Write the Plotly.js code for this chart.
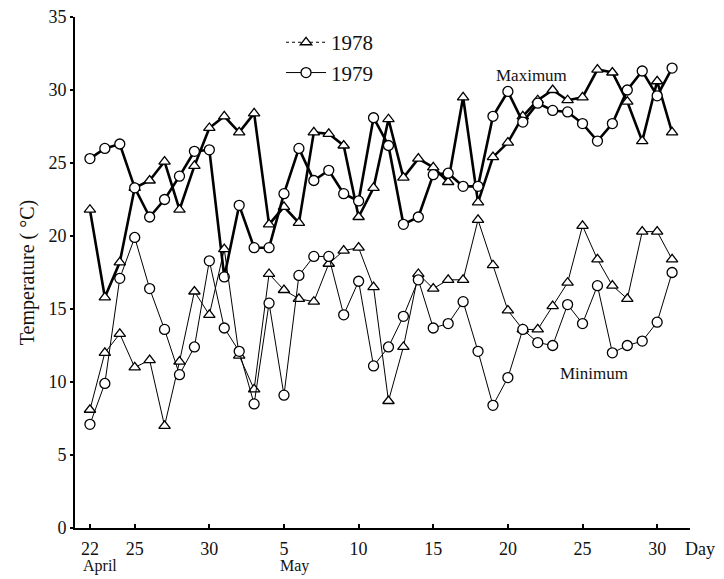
<!DOCTYPE html>
<html>
<head>
<meta charset="utf-8">
<script src="https://cdn.plot.ly/plotly-3.0.1.min.js"></script>
<style>html,body{margin:0;padding:0;background:#fff;}#chart{width:724px;height:579px;}</style>
</head>
<body>
<div id="chart"></div>
<script>
// Day index: 0 = 22 April ... 39 = 31 May
const day = [0,1,2,3,4,5,6,7,8,9,10,11,12,13,14,15,16,17,18,19,20,21,22,23,24,25,26,27,28,29,30,31,32,33,34,35,36,37,38,39];

const max1978 = [21.8,15.8,18.2,23.3,23.8,25.1,21.8,24.8,27.4,28.2,27.1,28.4,20.8,22.0,20.9,27.1,27.0,26.2,21.3,23.3,
                 28.0,24.0,25.3,24.7,23.7,29.5,22.3,25.4,26.4,28.2,29.3,30.0,29.3,29.5,31.4,31.2,29.2,26.5,30.6,27.1];
const max1979 = [25.3,26.0,26.3,23.3,21.3,22.5,24.1,25.8,25.9,17.2,22.1,19.2,19.2,22.9,26.0,23.8,24.5,22.9,22.4,28.1,
                 26.2,20.8,21.3,24.2,24.3,23.4,23.4,28.2,29.9,27.8,29.1,28.6,28.5,27.7,26.5,27.7,30.0,31.3,29.6,31.5];
const min1978 = [8.1,12.0,13.3,11.0,11.5,7.0,11.4,16.2,14.6,19.1,11.8,9.5,17.4,16.3,15.7,15.5,18.1,19.0,19.2,16.5,
                 8.7,12.4,17.4,16.4,17.0,17.0,21.1,18.0,14.9,13.6,13.6,15.2,16.8,20.7,18.4,16.6,15.7,20.3,20.3,18.4];
const min1979 = [7.1,9.9,17.1,19.9,16.4,13.6,10.5,12.4,18.3,13.7,12.1,8.5,15.4,9.1,17.3,18.6,18.6,14.6,16.9,11.1,
                 12.4,14.5,17.0,13.7,14.0,15.5,12.1,8.4,10.3,13.6,12.7,12.5,15.3,14.0,16.6,12.0,12.5,12.8,14.1,17.5];

const tickDays = [0,3,8,13,18,23,28,33,38];
const tickText = ['22','25','30','5','10','15','20','25','30'];
const yTicks = [0,5,10,15,20,25,30,35];

const FONT = 'Liberation Serif, Times New Roman, serif';
const triMarker = {symbol:'triangle-up', size:10, color:'white', line:{color:'black', width:1.3}};
const cirMarker = {symbol:'circle', size:10, color:'white', line:{color:'black', width:1.3}};

const traces = [
  {x:day, y:max1978, mode:'lines+markers', line:{color:'black', width:2.6}, marker:triMarker, showlegend:false},
  {x:day, y:max1979, mode:'lines+markers', line:{color:'black', width:2.6}, marker:cirMarker, showlegend:false},
  {x:day, y:min1978, mode:'lines+markers', line:{color:'black', width:1}, marker:triMarker, showlegend:false},
  {x:day, y:min1979, mode:'lines+markers', line:{color:'black', width:1}, marker:cirMarker, showlegend:false},
  {x:[null], y:[null], name:'1978', mode:'lines+markers', line:{color:'black', width:1, dash:'dot'}, marker:triMarker},
  {x:[null], y:[null], name:'1979', mode:'lines+markers', line:{color:'black', width:1}, marker:cirMarker}
];

const layout = {
  width:724, height:579,
  margin:{l:75, r:34, t:17, b:51},
  paper_bgcolor:'white', plot_bgcolor:'white',
  font:{family:FONT, color:'#111', size:17},
  showlegend:true,
  legend:{x:0.335, y:0.99, xanchor:'left', yanchor:'top', bgcolor:'rgba(0,0,0,0)',
          font:{family:FONT, size:21, color:'#111'}, itemwidth:40, tracegroupgap:2},
  xaxis:{range:[-1.0,40.2], showgrid:false, zeroline:false, showline:true, linecolor:'black', linewidth:2,
         tickmode:'array', tickvals:tickDays, ticktext:tickText, ticks:'inside', ticklen:4, tickwidth:2, tickcolor:'black',
         ticklabelstandoff:3, tickfont:{family:FONT, size:18, color:'#111'}},
  yaxis:{range:[0,35], showgrid:false, zeroline:false, showline:true, linecolor:'black', linewidth:2,
         tickmode:'array', tickvals:yTicks, ticks:'outside', ticklen:3, tickwidth:2, tickcolor:'black',
         tickfont:{family:FONT, size:18, color:'#111'},
         title:{text:'Temperature ( °C)', font:{family:FONT, size:20, color:'#111'}, standoff:8}},
  annotations:[
    {text:'Maximum', x:29.6, y:31.0, xref:'x', yref:'y', showarrow:false, font:{family:FONT, size:17, color:'#111'}},
    {text:'Minimum', x:33.8, y:10.6, xref:'x', yref:'y', showarrow:false, font:{family:FONT, size:17, color:'#111'}},
    {text:'April', x:-0.6, y:-0.075, xref:'x', yref:'paper', xanchor:'left', yanchor:'middle', showarrow:false, font:{family:FONT, size:16, color:'#111'}},
    {text:'May', x:12.6, y:-0.074, xref:'x', yref:'paper', xanchor:'left', yanchor:'middle', showarrow:false, font:{family:FONT, size:16, color:'#111'}},
    {text:'Day', x:0.988, y:-0.041, xref:'paper', yref:'paper', xanchor:'left', yanchor:'middle', showarrow:false, font:{family:FONT, size:18, color:'#111'}}
  ]
};

Plotly.newPlot('chart', traces, layout, {displayModeBar:false, staticPlot:true});
</script>
</body>
</html>
